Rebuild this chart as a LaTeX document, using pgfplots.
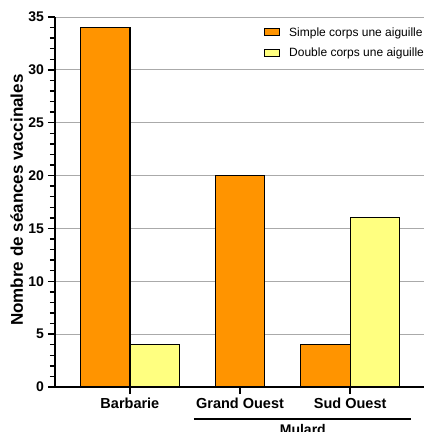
\documentclass[border=0pt]{standalone}
\usepackage{fontspec}
\setmainfont{Liberation Sans}
\usepackage{pgfplots}
\pgfplotsset{compat=1.18}

\definecolor{orangebar}{RGB}{255,148,0}
\definecolor{yellowbar}{RGB}{255,255,128}
\definecolor{gridgray}{RGB}{170,170,170}

\pgfplotsset{
  boxlegend/.style={legend image code/.code={
    \draw[##1, line width=1.1pt] (0pt,-3.5pt) rectangle (15pt,3.5pt);
    \path (22pt,0pt);}},
}

\begin{document}
\begin{tikzpicture}
\begin{axis}[
  at={(0pt,0pt)}, anchor=south west,
  scale only axis, width=369pt, height=370pt,
  xmin=0.32, xmax=3.67, ymin=0, ymax=35,
  clip=false,
  axis x line=bottom, axis y line=left,
  axis line style={line width=1.6pt, -},
  xtick={1,2,3},
  xticklabels={Barbarie, Grand Ouest, Sud Ouest},
  ytick={0,5,...,35}, minor y tick num=4,
  ymajorgrids,
  major grid style={gridgray, line width=0.8pt},
  tick style={black, line width=1.4pt},
  major tick length=7pt, minor tick length=5pt,
  tick align=outside,
  /pgf/number format/assume math mode=true,
  yticklabel style={font=\bfseries\fontsize{14}{14}\selectfont, xshift=-0.5pt},
  xticklabel style={font=\bfseries\fontsize{14.5}{14.5}\selectfont},
  ylabel={Nombre de séances vaccinales},
  every axis y label/.style={at={(axis description cs:-0.104,0.505)},
    rotate=90, anchor=center, font=\bfseries\fontsize{17}{17}\selectfont},
  bar width=0.45,
  legend style={draw=none, fill=white, at={(axis description cs:0.566,0.978)},
    anchor=north west, inner sep=0pt, row sep=6pt,
    nodes={font=\fontsize{12}{14}\selectfont}},
  legend cell align=left,
]
\addplot[ybar, fill=orangebar, draw=black, line width=1.2pt, boxlegend]
  coordinates {(0.775,34) (2,20) (2.775,4)};
\addplot[ybar, fill=yellowbar, draw=black, line width=1.2pt, boxlegend]
  coordinates {(1.225,4) (3.225,16)};
\legend{Simple corps une aiguille, Double corps une aiguille}

\draw[line width=1.6pt] ([yshift=-32pt]axis cs:1.58,0) -- ([yshift=-32pt]axis cs:3.55,0);
\node[anchor=north, inner sep=0pt, font=\bfseries\fontsize{14}{14}\selectfont]
  at ([yshift=-37pt]axis cs:2.57,0) {Mulard};
\end{axis}
\pgfresetboundingbox
\useasboundingbox (-55pt,-45pt) rectangle (369pt,387pt);
\end{tikzpicture}
\end{document}
